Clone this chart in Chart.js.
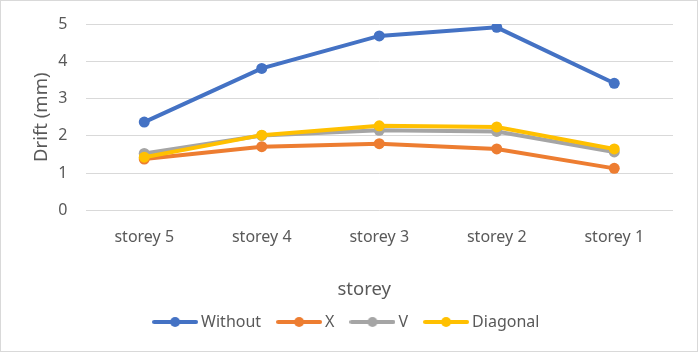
<!DOCTYPE html>
<html><head><meta charset="utf-8">
<script src="https://cdn.jsdelivr.net/npm/chart.js@4"></script>
<style>html,body{margin:0;padding:0;background:#fff}canvas{display:block}</style>
</head><body>
<canvas id="c" width="698" height="352"></canvas>
<script>
const categories = ['storey 5', 'storey 4', 'storey 3', 'storey 2', 'storey 1'];
const withoutVals = [2.37, 3.81, 4.68, 4.91, 3.41];
const xVals = [1.38, 1.71, 1.79, 1.65, 1.13];
const vVals = [1.53, 2.01, 2.15, 2.12, 1.57];
const diagonalVals = [1.43, 2.02, 2.27, 2.24, 1.65];
const seriesNames = ['Without', 'X', 'V', 'Diagonal'];
const seriesColors = ['#4472C4', '#ED7D31', '#A5A5A5', '#FFC000'];
const yTicks = [0, 1, 2, 3, 4, 5];
const xTitle = 'storey';
const yTitle = 'Drift (mm)';

const FONT = '"Noto Sans", "Open Sans", sans-serif';
const TXT = '#595959';

function legendIcon(color) {
  const cv = document.createElement('canvas');
  cv.width = 46; cv.height = 12;
  const g = cv.getContext('2d');
  g.strokeStyle = color; g.lineWidth = 4; g.lineCap = 'round';
  g.beginPath(); g.moveTo(2, 6); g.lineTo(44, 6); g.stroke();
  g.fillStyle = color;
  g.beginPath(); g.arc(23, 6, 5, 0, Math.PI * 2); g.fill();
  return cv;
}
const icons = seriesColors.map(legendIcon);

const allVals = [withoutVals, xVals, vVals, diagonalVals];
const datasets = allVals.map((vals, i) => ({
  label: seriesNames[i],
  data: vals,
  borderColor: seriesColors[i],
  backgroundColor: seriesColors[i],
  borderWidth: 4,
  pointRadius: 5.5,
  pointHoverRadius: 5.5,
  pointBorderWidth: 0,
  pointStyle: 'circle',
  tension: 0,
  order: 4 - i
}));

const frame = {
  id: 'frame',
  beforeDraw(chart) {
    const ctx = chart.ctx;
    ctx.save();
    ctx.fillStyle = '#fff';
    ctx.fillRect(0, 0, chart.width, chart.height);
    ctx.restore();
  },
  afterDraw(chart) {
    const ctx = chart.ctx;
    ctx.save();
    // x-axis title (Excel places it slightly left of the plot centre)
    ctx.fillStyle = TXT;
    ctx.font = '18.5px ' + FONT;
    ctx.textAlign = 'center';
    ctx.textBaseline = 'middle';
    const xs = chart.scales.x;
    ctx.fillText(xTitle, (xs.left + xs.right) / 2 - 15, xs.bottom - 4);
    ctx.strokeStyle = '#d9d9d9';
    ctx.lineWidth = 1;
    ctx.strokeRect(0.5, 0.5, chart.width - 1, chart.height - 1);
    ctx.restore();
  }
};

new Chart(document.getElementById('c'), {
  type: 'line',
  data: { labels: categories, datasets },
  plugins: [frame],
  options: {
    responsive: false,
    animation: false,
    events: [],
    layout: { padding: { left: 23.5, right: 25, top: 14, bottom: 12 } },
    plugins: {
      tooltip: { enabled: false },
      legend: {
        position: 'bottom',
        labels: {
          sort: (a, b) => a.datasetIndex - b.datasetIndex,
          usePointStyle: true,
          pointStyleWidth: 36,
          padding: 20,
          color: TXT,
          font: { family: FONT, size: 16 },
          generateLabels(chart) {
            const items = Chart.defaults.plugins.legend.labels.generateLabels(chart);
            items.forEach(it => { it.pointStyle = icons[it.datasetIndex]; });
            return items;
          }
        }
      }
    },
    scales: {
      x: {
        offset: true,
        grid: { display: false, drawTicks: false },
        border: { display: false },
        ticks: { color: TXT, font: { family: FONT, size: 16 }, padding: 17, maxRotation: 0 },
        title: { display: false },
        afterFit(s) { s.height = 83.5; }
      },
      y: {
        min: 0, max: 5,
        afterBuildTicks(s) { s.ticks = yTicks.map(v => ({ value: v })); },
        grid: { color: '#d9d9d9', lineWidth: 1, drawTicks: true, tickLength: 3.6, tickColor: 'rgba(0,0,0,0)' },
        border: { display: false },
        ticks: { color: TXT, font: { family: FONT, size: 16 }, padding: 14.4 },
        title: { display: true, text: yTitle, color: TXT, font: { family: FONT, size: 18.5 }, padding: { top: 7, bottom: 0 } },
        afterFit(s) { s.width = 62; }
      }
    }
  }
});
</script>
</body></html>
